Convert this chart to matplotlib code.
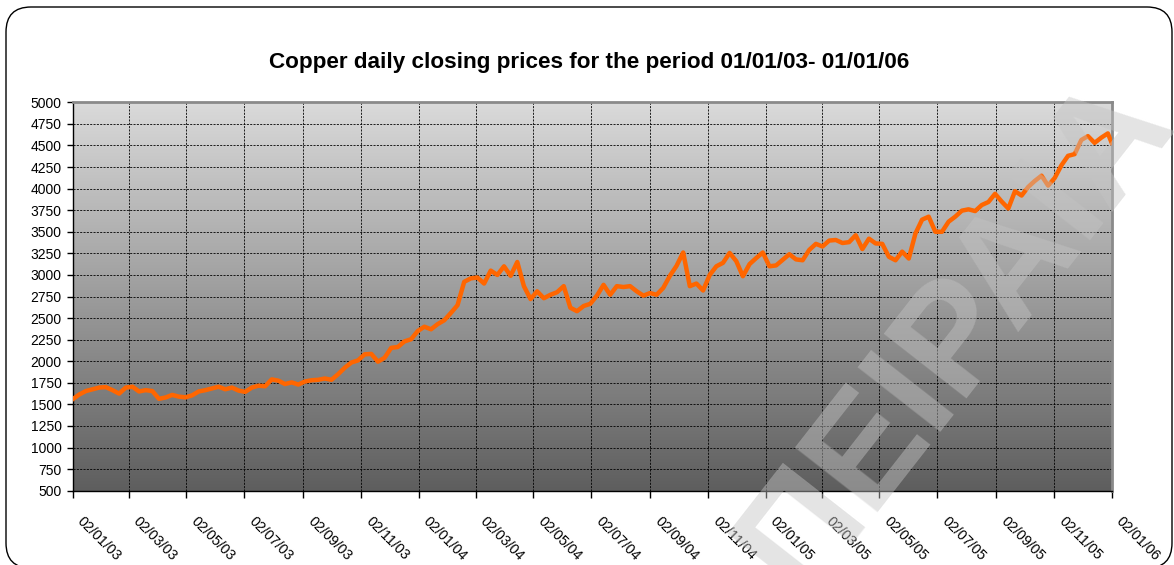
import numpy as np
import pandas as pd
import matplotlib
matplotlib.use('Agg')
import matplotlib.pyplot as plt
from matplotlib.colors import LinearSegmentedColormap
from matplotlib.patches import FancyBboxPatch
from matplotlib.transforms import IdentityTransform, ScaledTranslation

plt.rcParams['font.family'] = ['Liberation Sans', 'DejaVu Sans']

# -----------------------------
# data (weekly readings, USD/t)
# -----------------------------
first_week = '2003-01-02'
prices = [
    1560, 1615, 1655, 1675, 1695, 1700, 1665, 1625, 1695, 1705,
    1650, 1665, 1655, 1565, 1580, 1610, 1590, 1582, 1605, 1650,
    1665, 1685, 1705, 1675, 1695, 1660, 1645, 1695, 1717, 1710,
    1790, 1775, 1736, 1755, 1730, 1765, 1780, 1785, 1800, 1785,
    1850, 1925, 1985, 2010, 2080, 2085, 1995, 2040, 2155, 2165,
    2230, 2255, 2350, 2400, 2370, 2430, 2475, 2560, 2650, 2920,
    2960, 2970, 2900, 3050, 3000, 3100, 2990, 3150, 2870, 2720,
    2810, 2730, 2770, 2800, 2870, 2620, 2580, 2640, 2665, 2760,
    2885, 2770, 2870, 2860, 2870, 2810, 2760, 2790, 2770, 2850,
    2990, 3105, 3260, 2870, 2900, 2820, 3000, 3100, 3140, 3255,
    3160, 2985, 3125, 3195, 3260, 3100, 3110, 3175, 3240, 3180,
    3170, 3290, 3360, 3330, 3398, 3405, 3370, 3380, 3460, 3300,
    3420, 3365, 3360, 3210, 3170, 3270, 3190, 3480, 3640, 3675,
    3500, 3500, 3617, 3675, 3745, 3760, 3740, 3810, 3845, 3940,
    3850, 3770, 3970, 3920, 4020, 4090, 4150, 4035, 4125, 4270,
    4380, 4400, 4564, 4608, 4530, 4590, 4640,
]
last_day = '2006-01-02'
last_price = 4530

tick_labels = ['02/01/03', '02/03/03', '02/05/03', '02/07/03', '02/09/03',
               '02/11/03', '02/01/04', '02/03/04', '02/05/04', '02/07/04',
               '02/09/04', '02/11/04', '02/01/05', '02/03/05', '02/05/05',
               '02/07/05', '02/09/05', '02/11/05', '02/01/06']
y_ticks = list(range(500, 5001, 250))

title = 'Copper daily closing prices for the period 01/01/03- 01/01/06'
watermark = 'ΠΕΙΡΑΙΑ'

dates = list(pd.date_range(first_week, periods=len(prices), freq='7D'))
dates.append(pd.Timestamp(last_day))
values = prices + [last_price]
tick_dates = pd.to_datetime(tick_labels, format='%d/%m/%y')

# -----------------------------
# figure
# -----------------------------
fig = plt.figure(figsize=(11.74, 5.65), dpi=100)
ax = fig.add_axes([0.0619, 0.1315, 0.885, 0.6874])

# grey gradient plot area
grad = np.linspace(0, 1, 256).reshape(-1, 1)
cmap = LinearSegmentedColormap.from_list('bg', ['#5e5e5e', '#dadada'])
ax.imshow(grad, cmap=cmap, origin='lower', extent=(0, 1, 0, 1),
          transform=ax.transAxes, aspect='auto', zorder=0)

ax.plot(dates, values, color='#ff6600', lw=3.2, solid_joinstyle='round', zorder=3)

ax.set_xlim(tick_dates[0], tick_dates[-1])
ax.set_ylim(500, 5000)
ax.set_yticks(y_ticks)
ax.set_xticks(tick_dates)
ax.set_xticklabels([])

# slanted date labels, hung just right of each tick
shift = ScaledTranslation(0.12, -0.235, fig.dpi_scale_trans)
for d, lab in zip(tick_dates, tick_labels):
    ax.text(d, 0, lab, transform=ax.get_xaxis_transform() + shift,
            rotation=-45, rotation_mode='anchor', ha='left', va='top',
            fontsize=10.3, clip_on=False)

ax.grid(True, color='black', linestyle=(0, (2.5, 1.5)), linewidth=0.6, zorder=1)
ax.tick_params(axis='y', length=4, width=1, pad=4, labelsize=10)
ax.tick_params(axis='x', length=5, width=1)

for s in ['left', 'bottom']:
    ax.spines[s].set_color('black')
    ax.spines[s].set_linewidth(1)
for s in ['top', 'right']:
    ax.spines[s].set_color('#8a8a8a')
    ax.spines[s].set_linewidth(2)

fig.text(0.502, 0.889, title, ha='center', va='center', fontsize=16.2, weight='bold')

# rounded frame round the chart (pixel coords)
frame = FancyBboxPatch((6, -3), 1166, 561, boxstyle='round,pad=0,rounding_size=25',
                       transform=IdentityTransform(), fill=False,
                       edgecolor='black', linewidth=1)
fig.patches.append(frame)

# watermark
fig.text(0.682, -0.058, watermark, rotation=52, rotation_mode='anchor',
         ha='left', va='baseline', fontsize=110, weight='bold',
         color='#c4c4c4', alpha=0.45, zorder=10)

fig.savefig('out.png', dpi=100)
